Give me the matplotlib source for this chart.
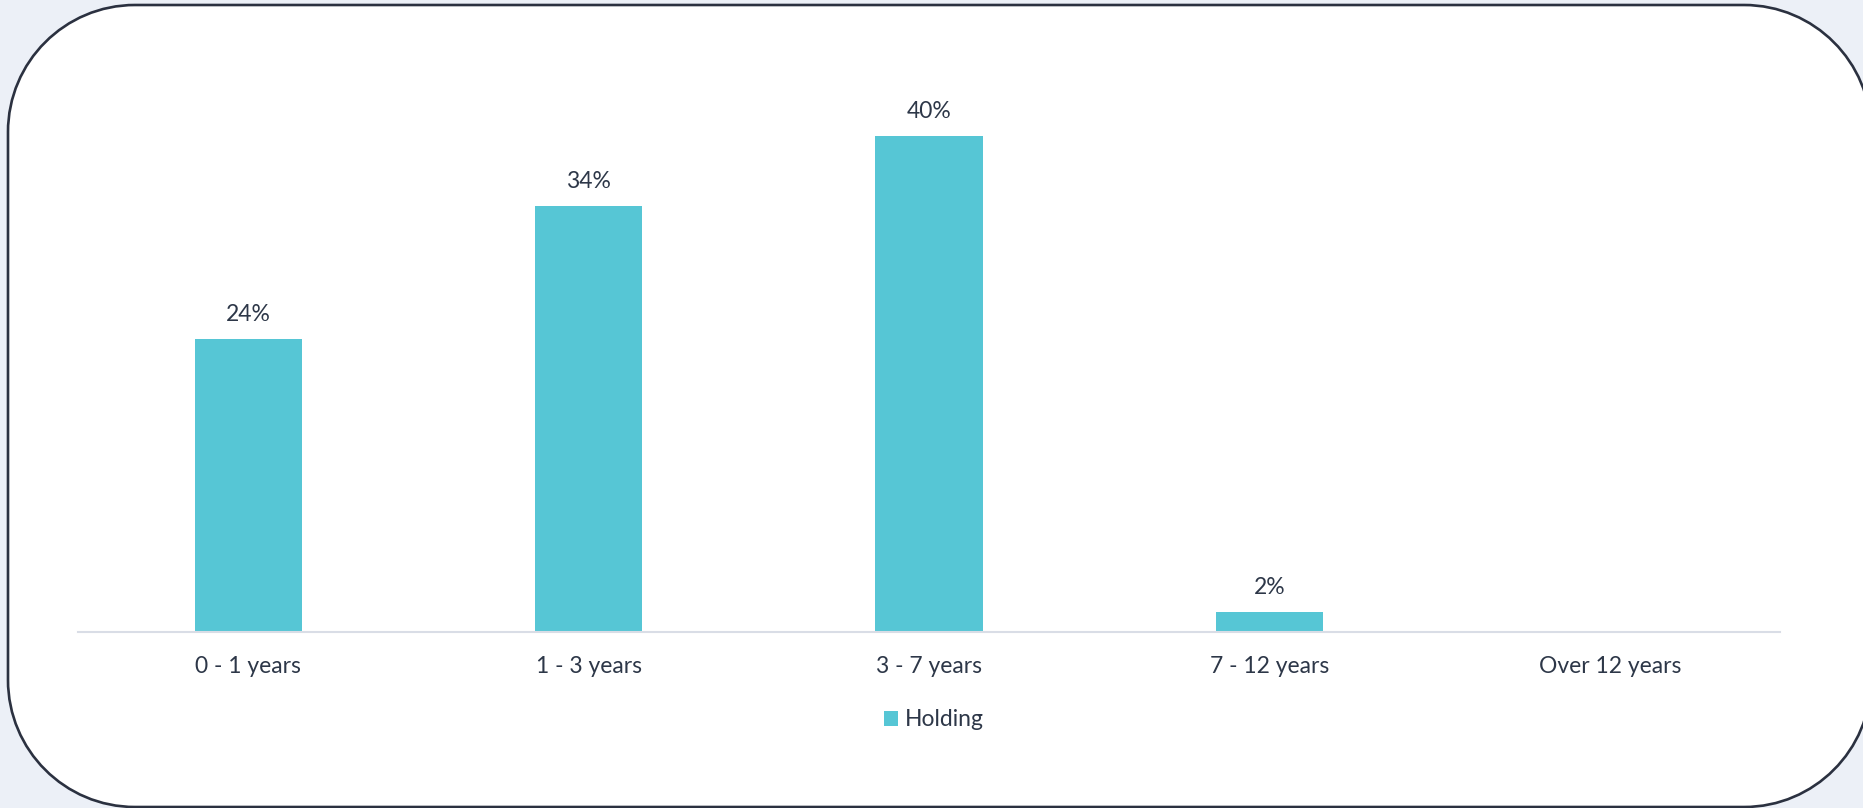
import matplotlib
matplotlib.use("Agg")
import matplotlib.pyplot as plt
from matplotlib.patches import PathPatch, Patch
from matplotlib.path import Path

categories = ["0 - 1 years", "1 - 3 years", "3 - 7 years", "7 - 12 years", "Over 12 years"]
values = [23.6, 34.3, 40.0, 1.6, 0.0]
series_name = "Holding"

W, H = 1863, 808
TEXT = "#2d3748"
BAR = "#56c6d5"

plt.rcParams['font.family'] = ['Lato', 'DejaVu Sans']

fig = plt.figure(figsize=(W / 100, H / 100), dpi=100)
fig.patch.set_facecolor("#ecf0f7")


def rounded_rect(x0, y0, x1, y1, r):
    k = 0.5523 * r
    verts = [
        (x0 + r, y0), (x1 - r, y0),
        (x1 - r + k, y0), (x1, y0 + r - k), (x1, y0 + r),
        (x1, y1 - r),
        (x1, y1 - r + k), (x1 - r + k, y1), (x1 - r, y1),
        (x0 + r, y1),
        (x0 + r - k, y1), (x0, y1 - r + k), (x0, y1 - r),
        (x0, y0 + r),
        (x0, y0 + r - k), (x0 + r - k, y0), (x0 + r, y0),
        (x0 + r, y0),
    ]
    codes = [Path.MOVETO, Path.LINETO,
             Path.CURVE4, Path.CURVE4, Path.CURVE4,
             Path.LINETO,
             Path.CURVE4, Path.CURVE4, Path.CURVE4,
             Path.LINETO,
             Path.CURVE4, Path.CURVE4, Path.CURVE4,
             Path.LINETO,
             Path.CURVE4, Path.CURVE4, Path.CURVE4,
             Path.CLOSEPOLY]
    return Path(verts, codes)


# background card (pixel coordinates, y downward)
bg = fig.add_axes([0, 0, 1, 1], zorder=0)
bg.set_xlim(0, W)
bg.set_ylim(H, 0)
bg.axis("off")
card = PathPatch(rounded_rect(8, 5, 1871, 807, 127),
                 facecolor="white", edgecolor="#2b3140", linewidth=1.9)
bg.add_patch(card)

# chart axes
x0, x1 = 78, 1780
yb, yt = 632, 86
ax = fig.add_axes([x0 / W, (H - yb) / H, (x1 - x0) / W, (yb - yt) / H], zorder=1)
ax.patch.set_alpha(0)
pos = list(range(len(categories)))
bars = ax.bar(pos, values, width=0.315, color=BAR, label=series_name)
ax.set_xlim(-0.5, len(categories) - 0.5)
ax.set_ylim(0, 44)

for p, v in zip(pos, values):
    if v > 0:
        ax.annotate(f"{v:.0f}%", (p, v), xytext=(0, 10), textcoords="offset points",
                    ha="center", va="bottom", fontsize=16.5, color=TEXT)

ax.set_xticks(pos)
ax.set_xticklabels(categories, fontsize=16.5, color=TEXT)
ax.tick_params(axis="x", length=0, pad=17.5)
ax.set_yticks([])
for s in ["top", "left", "right"]:
    ax.spines[s].set_visible(False)
ax.spines["bottom"].set_color("#d9dde6")
ax.spines["bottom"].set_linewidth(1.5)

leg = fig.legend(handles=[Patch(facecolor=BAR, label=series_name)],
                 loc="center", bbox_to_anchor=(934 / W, (H - 720) / H),
                 frameon=False, fontsize=16.5, handlelength=0.6, handleheight=0.6,
                 handletextpad=0.3, labelcolor=TEXT)

fig.savefig("out.png", dpi=100, facecolor=fig.get_facecolor())
